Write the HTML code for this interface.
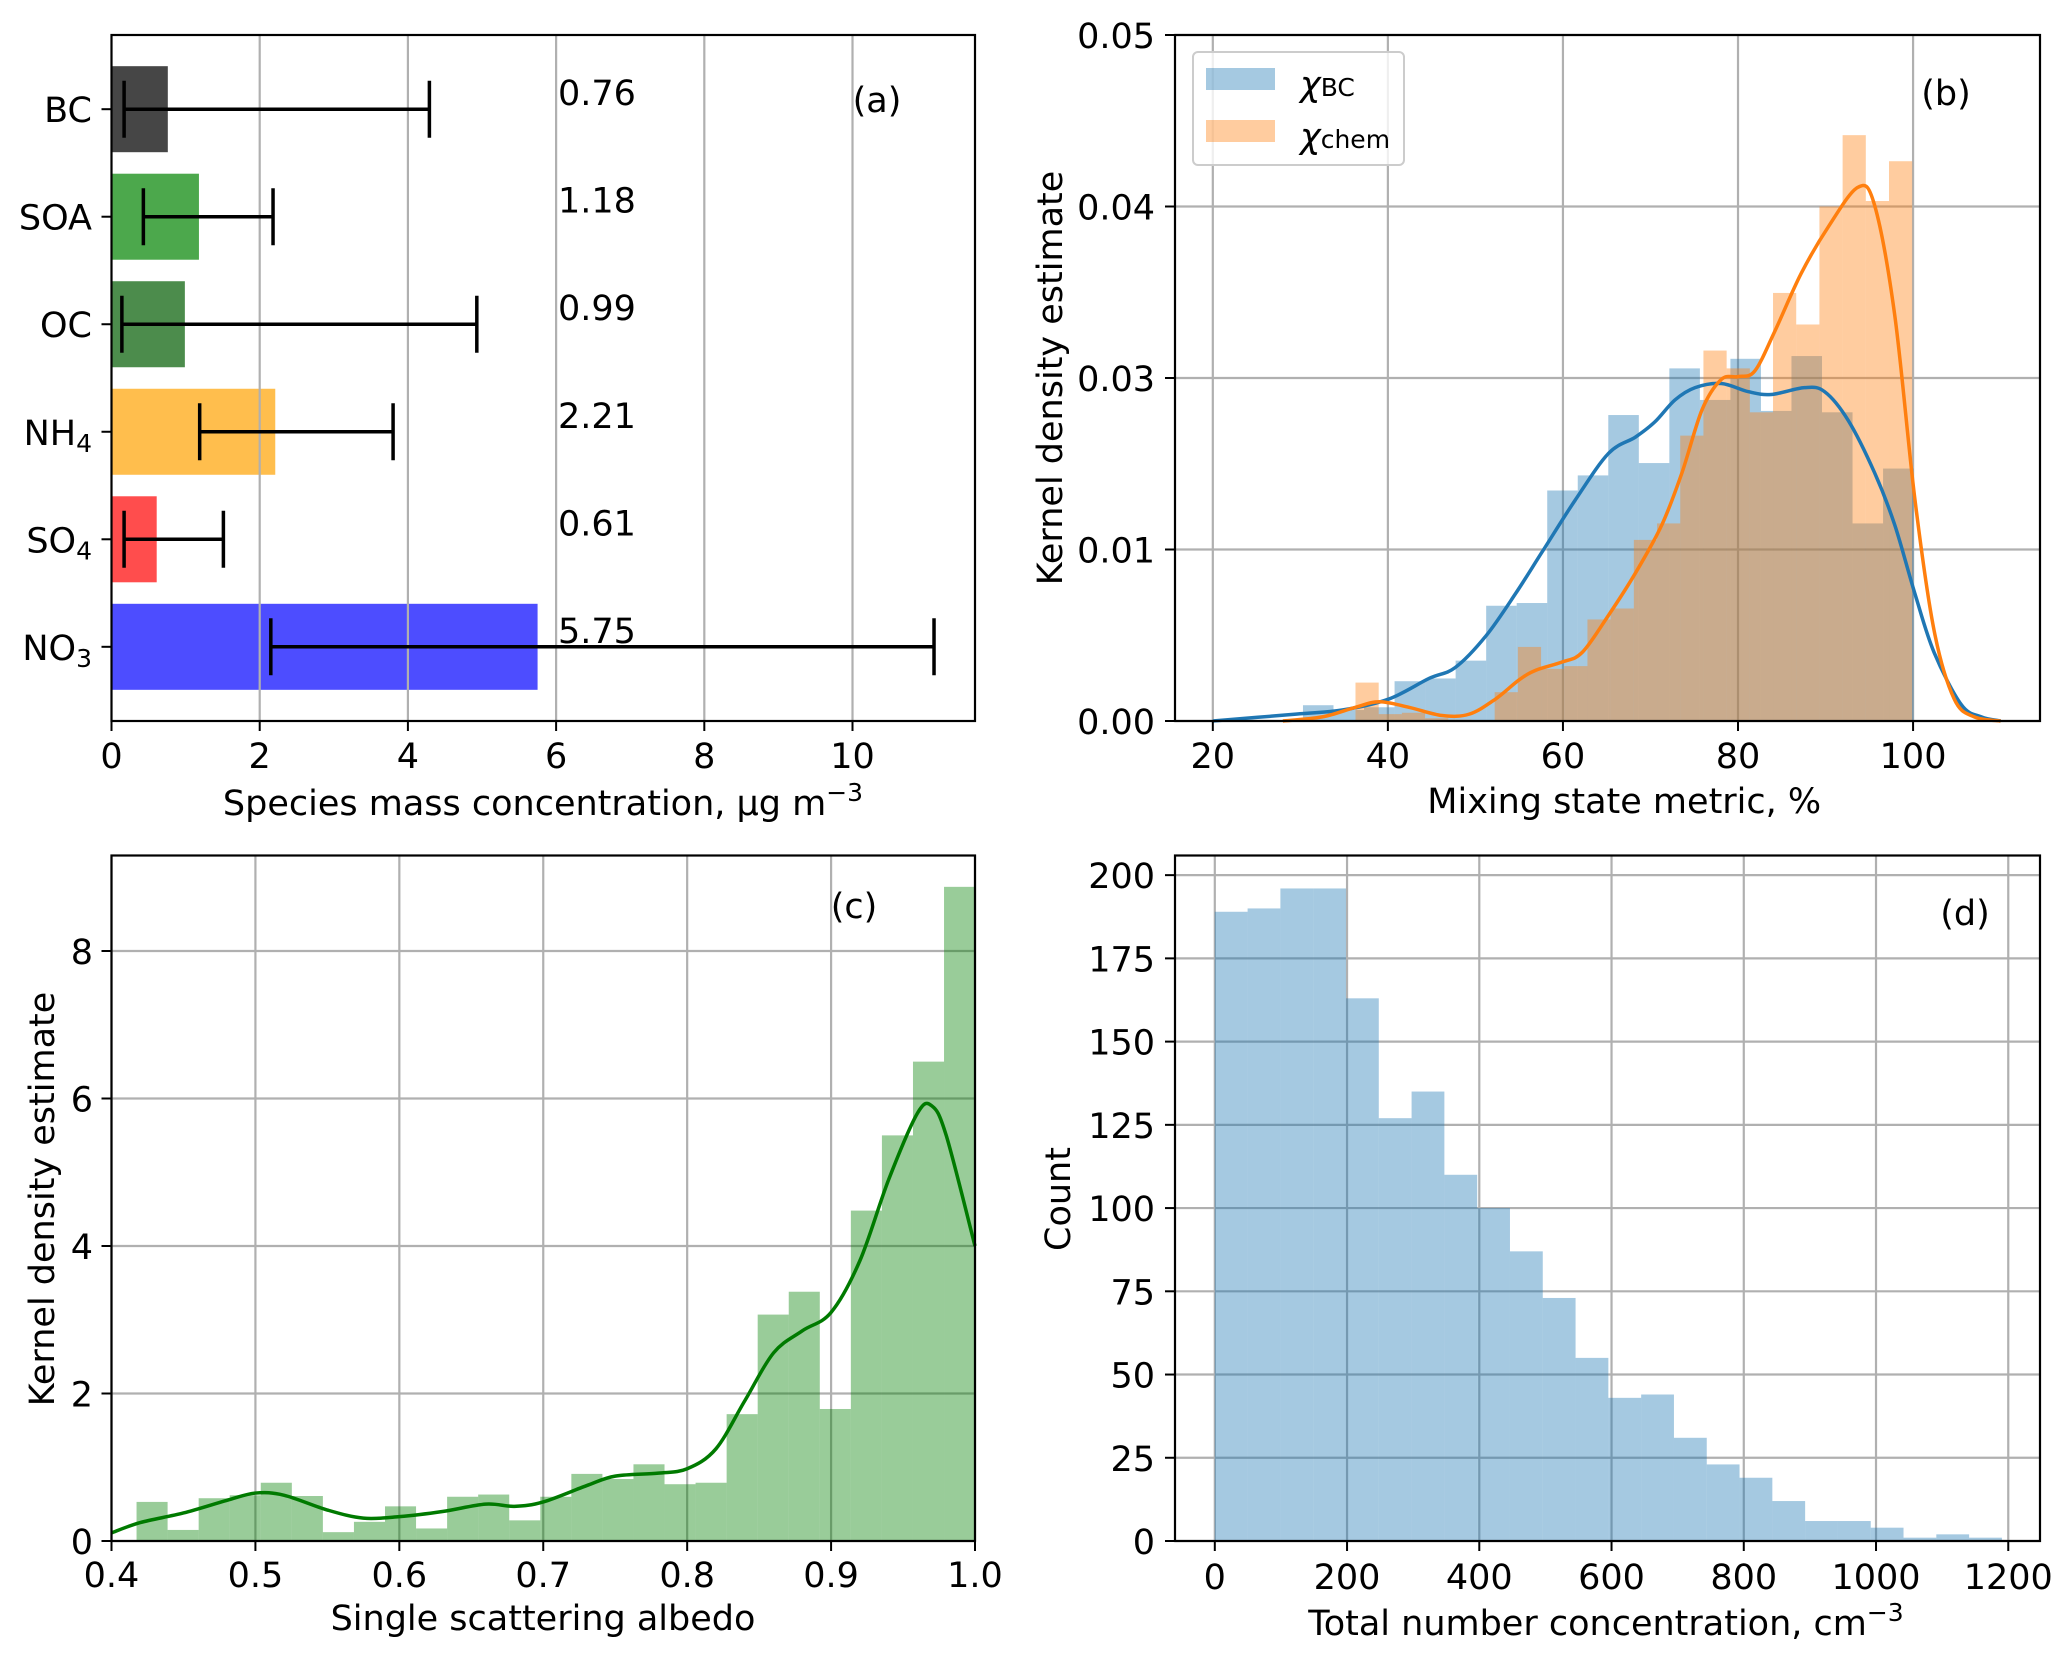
<!DOCTYPE html>
<html><head><meta charset="utf-8">
<style>
html,body{margin:0;padding:0;background:#fff;}
svg{display:block;font-family:"DejaVu Sans","Liberation Sans",sans-serif;}
</style></head>
<body>
<svg id="fig" width="2067" height="1659" viewBox="0 0 2067 1659" xmlns="http://www.w3.org/2000/svg"></svg>
<script>
// ---------- Panel (a) data ----------
const aCats = ["NO3","SO4","NH4","OC","SOA","BC"];
const aVals = [5.75,0.61,2.21,0.99,1.18,0.76];
const aErrLo = [2.15,0.17,1.19,0.14,0.43,0.17];
const aErrHi = [11.1,1.51,3.8,4.93,2.18,4.29];
const aColors = ["rgb(77,77,255)","rgb(255,77,77)","rgb(255,190,77)","rgb(76,140,76)","rgb(76,168,76)","rgb(70,70,70)"];
const aXTicks = [0,2,4,6,8,10];
// ---------- Panel (b) data ----------
const bBcStart = 30.3, bBcWidth = 3.488;
const bBcVals = [0.00115,0.0008,0.001,0.0029,0.0031,0.0044,0.0084,0.0086,0.0168,0.0179,0.0223,0.0188,0.0257,0.0234,0.0264,0.0226,0.0266,0.0225,0.0144,0.0184];
const bChStart = 36.3, bChWidth = 2.65;
const bChVals = [0.0028,0.0005,0.0006,0.0002,0.0001,0,0.0021,0.0054,0.0038,0.004,0.0074,0.0082,0.0132,0.0144,0.0208,0.027,0.0257,0.0225,0.0312,0.0289,0.0375,0.0427,0.0379,0.0408];
const bBcKdeX = [20,29.5,34.8,40.1,44.7,47.7,51.2,54.6,57.6,61.4,65.2,68.3,70.5,72.8,75.1,78.1,81.2,83.8,87.6,89.9,92.6,95.6,97.9,100.2,102.4,105.5,107.8,110];
const bBcKdeY = [0,0.0005,0.0008,0.0016,0.0031,0.0039,0.0062,0.0093,0.0123,0.0161,0.0195,0.0207,0.0218,0.0234,0.0243,0.0246,0.024,0.0238,0.0243,0.024,0.0219,0.0181,0.0143,0.0093,0.005,0.0012,0.0003,0];
const bChKdeX = [28,32.5,36.3,39,42.4,46.2,49.3,52.3,55,56.9,59.9,62.2,65.2,68.3,71.3,73.6,75.9,78.1,80,81.9,84.2,87.2,90.3,93.7,95.6,97.9,100.2,102.4,104.7,107,110];
const bChKdeY = [0,0.0003,0.001,0.0014,0.001,0.0004,0.0005,0.0016,0.003,0.0037,0.0043,0.005,0.0077,0.0108,0.0143,0.0181,0.0227,0.0249,0.0251,0.0255,0.0284,0.0326,0.036,0.0389,0.0376,0.0296,0.0162,0.0066,0.0016,0.0003,0];
const bXTicks = [20,40,60,80,100];
const bYTicks = [0,0.0125,0.025,0.0375,0.05];
const bYLabels = ["0.00","0.01","0.03","0.04","0.05"];
// ---------- Panel (c) data ----------
const cStart = 0.4174, cWidth = 0.02158;
const cVals = [0.53,0.15,0.58,0.62,0.79,0.61,0.12,0.26,0.47,0.17,0.6,0.63,0.28,0.6,0.91,0.84,1.04,0.77,0.79,1.72,3.07,3.38,1.79,4.48,5.5,6.5,8.87];
const cKdeX = [0.4,0.42,0.45,0.48,0.5,0.52,0.55,0.575,0.6,0.63,0.66,0.68,0.7,0.73,0.75,0.78,0.8,0.82,0.84,0.86,0.88,0.9,0.92,0.94,0.96,0.97,0.98,1.0];
const cKdeY = [0.11,0.25,0.38,0.55,0.65,0.62,0.42,0.31,0.33,0.4,0.5,0.47,0.53,0.75,0.88,0.92,0.98,1.25,1.9,2.55,2.85,3.1,3.8,4.9,5.8,5.9,5.5,4.0];
const cXTicks = [0.4,0.5,0.6,0.7,0.8,0.9,1.0];
const cYTicks = [0,2,4,6,8];
// ---------- Panel (d) data ----------
const dStart = 0, dWidth = 49.6;
const dVals = [189,190,196,196,163,127,135,110,100,87,73,55,43,44,31,23,19,12,6,6,4,1,2,1];
const dXTicks = [0,200,400,600,800,1000,1200];
const dYTicks = [0,25,50,75,100,125,150,175,200];

const NS = "http://www.w3.org/2000/svg";
const fig = document.getElementById("fig");
function mk(tag, attrs, parent){
  const e = document.createElementNS(NS, tag);
  for (const k in attrs) e.setAttribute(k, attrs[k]);
  (parent||fig).appendChild(e);
  return e;
}
function scale(d0,d1,p0,p1){ return v => p0 + (v-d0)/(d1-d0)*(p1-p0); }
function smooth(pts){
  let d = "M"+pts[0][0]+","+pts[0][1];
  for (let i=0;i<pts.length-1;i++){
    const p0=pts[Math.max(0,i-1)], p1=pts[i], p2=pts[i+1], p3=pts[Math.min(pts.length-1,i+2)];
    const c1x=p1[0]+(p2[0]-p0[0])/6, c1y=p1[1]+(p2[1]-p0[1])/6;
    const c2x=p2[0]-(p3[0]-p1[0])/6, c2y=p2[1]-(p3[1]-p1[1])/6;
    d += " C"+c1x+","+c1y+" "+c2x+","+c2y+" "+p2[0]+","+p2[1];
  }
  return d;
}
const FS = 35;
function text(str, x, y, anchor, name, parent, size){
  const t = mk("text", {x:x, y:y, "text-anchor":anchor||"middle", "font-size":size||FS, fill:"#000"}, parent);
  t.textContent = str;
  
  
  return t;
}
function frame(L,T,R,B,name){
  const r = mk("rect",{x:L,y:T,width:R-L,height:B-T,fill:"none",stroke:"#000","stroke-width":2.2});
  
  
}
function gridX(vals, sx, T, B, g){
  vals.forEach(v=>{
    const l = mk("line",{x1:sx(v),x2:sx(v),y1:T,y2:B,stroke:"#b0b0b0","stroke-width":2.2},g);
    
    
  });
}
function gridY(vals, sy, L, R, g){
  vals.forEach(v=>{
    const l = mk("line",{x1:L,x2:R,y1:sy(v),y2:sy(v),stroke:"#b0b0b0","stroke-width":2.2},g);
    
    
  });
}
function xTicks(vals, labels, sx, B, base, g){
  vals.forEach((v,i)=>{
    const l = mk("line",{x1:sx(v),x2:sx(v),y1:B,y2:B+10,stroke:"#000","stroke-width":2},g);
    
    
    text(labels[i], sx(v), base, "middle", "x-tick-label", g);
  });
}
function yTicks(vals, labels, sy, L, right, g){
  vals.forEach((v,i)=>{
    const l = mk("line",{x1:L-10,x2:L,y1:sy(v),y2:sy(v),stroke:"#000","stroke-width":2},g);
    
    
    text(labels[i], right, sy(v)+13, "end", "y-tick-label", g);
  });
}
function yTitle(str, x, y, g){
  const t = text(str, x, y, "middle", "y-axis-title", g);
  t.setAttribute("transform","rotate(-90 "+x+" "+y+")");
}
function hist(start, width, vals, sx, sy, color, op, name, g){
  vals.forEach((v,i)=>{
    const x0 = sx(start+i*width), x1 = sx(start+(i+1)*width);
    const r = mk("rect",{x:x0,y:sy(v),width:x1-x0,height:sy(0)-sy(v),fill:color,"fill-opacity":op},g);
    
    
  });
}

// ================= Panel (a) =================
(function(){
  const g = mk("g",{});  
  const L=111.5,R=975,T=35,B=721;
  const sx = scale(0,11.653,L,R), sy = scale(-0.69,5.69,B,T);
  aVals.forEach((v,i)=>{
    const h = 0.8*(sy(0)-sy(1));
    const r = mk("rect",{x:sx(0),y:sy(i)-h/2,width:sx(v)-sx(0),height:h,fill:aColors[i]},g);
    
    
  });
  gridX(aXTicks.slice(1), sx, T, B, g);
  aVals.forEach((v,i)=>{
    const y = sy(i);
    const e = mk("path",{d:"M"+sx(aErrLo[i])+","+y+" H"+sx(aErrHi[i])+" M"+sx(aErrLo[i])+","+(y-28.5)+" V"+(y+28.5)+" M"+sx(aErrHi[i])+","+(y-28.5)+" V"+(y+28.5),stroke:"#000","stroke-width":3.5,fill:"none"},g);
    
    
    text(v.toFixed(2), 558, y-4, "start", "value-label-"+aCats[i].toLowerCase(), g);
    const tk = mk("line",{x1:L-10,x2:L,y1:y,y2:y,stroke:"#000","stroke-width":2},g);
    
    
    const name = aCats[i];
    const t = mk("text",{x:92,y:y+13,"text-anchor":"end","font-size":FS},g);
    
    
    if (name.match(/\d$/)) {
      t.appendChild(document.createTextNode(name.slice(0,-1)));
      const s = mk("tspan",{"font-size":25,dy:7},t); s.textContent = name.slice(-1);
    } else t.textContent = name;
  });
  frame(L,T,R,B,"panel-a-frame");
  xTicks(aXTicks, aXTicks.map(String), sx, B, 768, g);
  const xl = mk("text",{x:543,y:815,"text-anchor":"middle","font-size":FS},g);
  
  
  xl.appendChild(document.createTextNode("Species mass concentration, μg m"));
  const sup = mk("tspan",{"font-size":25,dy:-14},xl); sup.textContent="−3";
  text("(a)", 877, 112, "middle", "panel-label-a", g);
})();

// ================= Panel (b) =================
(function(){
  const g = mk("g",{});  
  const L=1175,R=2040,T=35,B=721;
  const sx = scale(15.68,114.5,L,R), sy = scale(0,0.05,B,T);
  gridX(bXTicks, sx, T, B, g);
  gridY(bYTicks, sy, L, R, g);
  hist(bBcStart,bBcWidth,bBcVals,sx,sy,"#1f77b4",0.4,"hist-bar-chi-bc",g);
  hist(bChStart,bChWidth,bChVals,sx,sy,"#ff7f0e",0.4,"hist-bar-chi-chem",g);
  const p1 = mk("path",{d:smooth(bBcKdeX.map((x,i)=>[sx(x),sy(bBcKdeY[i])])),stroke:"#1f77b4","stroke-width":3.5,fill:"none"},g);
  
  
  const p2 = mk("path",{d:smooth(bChKdeX.map((x,i)=>[sx(x),sy(bChKdeY[i])])),stroke:"#ff7f0e","stroke-width":3.5,fill:"none"},g);
  
  
  frame(L,T,R,B,"panel-b-frame");
  xTicks(bXTicks, bXTicks.map(String), sx, B, 768, g);
  yTicks(bYTicks, bYLabels, sy, L, 1155, g);
  text("Mixing state metric, %", sx(67), 813, "middle", "x-axis-title", g);
  yTitle("Kernel density estimate", 1062, 378, g);
  text("(b)", 1946, 105, "middle", "panel-label-b", g);
  // legend
  const lg = mk("g",{},g);  
  const box = mk("rect",{x:1193,y:52,width:211,height:113,rx:5,fill:"#fff","fill-opacity":0.8,stroke:"#ccc","stroke-width":2},lg);
  
  
  const e1 = mk("rect",{x:1206,y:68,width:69,height:22,fill:"#1f77b4","fill-opacity":0.4},lg);
  
  
  const e2 = mk("rect",{x:1206,y:120,width:69,height:22,fill:"#ff7f0e","fill-opacity":0.4},lg);
  
  
  const t1 = mk("text",{x:1300,y:96,"font-size":FS},lg);
  
  
  const c1 = mk("tspan",{"font-style":"italic"},t1); c1.textContent="χ";
  const s1 = mk("tspan",{"font-size":25},t1); s1.textContent="BC";
  const t2 = mk("text",{x:1300,y:148,"font-size":FS},lg);
  
  
  const c2 = mk("tspan",{"font-style":"italic"},t2); c2.textContent="χ";
  const s2 = mk("tspan",{"font-size":25},t2); s2.textContent="chem";
})();

// ================= Panel (c) =================
(function(){
  const g = mk("g",{});  
  const L=111.5,R=975,T=855.5,B=1541;
  const sx = scale(0.4,1.0,L,R), sy = scale(0,9.295,B,T);
  gridX(cXTicks, sx, T, B, g);
  gridY(cYTicks, sy, L, R, g);
  hist(cStart,cWidth,cVals,sx,sy,"#008000",0.4,"hist-bar-albedo",g);
  const p = mk("path",{d:smooth(cKdeX.map((x,i)=>[sx(x),sy(cKdeY[i])])),stroke:"#007a00","stroke-width":3.5,fill:"none"},g);
  
  
  frame(L,T,R,B,"panel-c-frame");
  xTicks(cXTicks, cXTicks.map(v=>v.toFixed(1)), sx, B, 1587, g);
  yTicks(cYTicks, cYTicks.map(String), sy, L, 93, g);
  text("Single scattering albedo", 543, 1630, "middle", "x-axis-title", g);
  yTitle("Kernel density estimate", 54, 1199, g);
  text("(c)", 854, 918, "middle", "panel-label-c", g);
})();

// ================= Panel (d) =================
(function(){
  const g = mk("g",{});  
  const L=1175,R=2040,T=855.5,B=1541;
  const sx = scale(-60.2,1248,L,R), sy = scale(0,205.9,B,T);
  gridX(dXTicks, sx, T, B, g);
  gridY(dYTicks, sy, L, R, g);
  hist(dStart,dWidth,dVals,sx,sy,"#1f77b4",0.4,"hist-bar-count",g);
  frame(L,T,R,B,"panel-d-frame");
  xTicks(dXTicks, dXTicks.map(String), sx, B, 1589, g);
  yTicks(dYTicks, dYTicks.map(String), sy, L, 1155, g);
  const xl = mk("text",{x:1606,y:1635,"text-anchor":"middle","font-size":FS},g);
  
  
  xl.appendChild(document.createTextNode("Total number concentration, cm"));
  const sup = mk("tspan",{"font-size":25,dy:-14},xl); sup.textContent="−3";
  yTitle("Count", 1070, 1199, g);
  text("(d)", 1965, 925, "middle", "panel-label-d", g);
})();
</script>
</body></html>
